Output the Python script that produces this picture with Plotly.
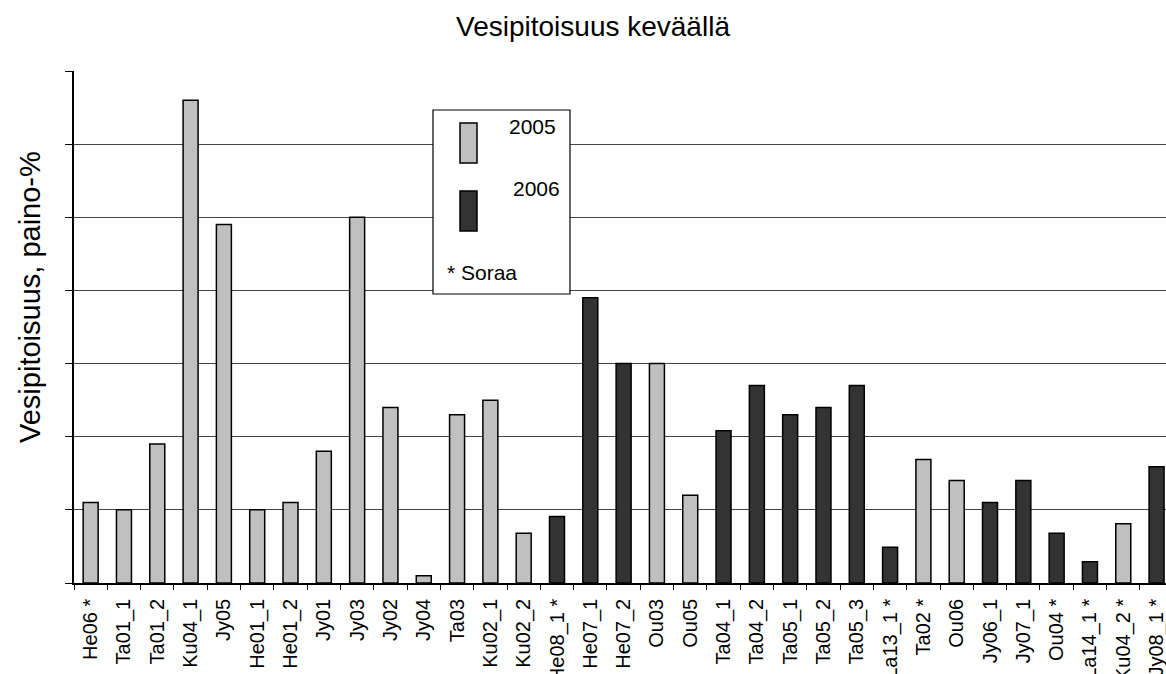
import plotly.graph_objects as go

categories = ["He06 *", "Ta01_1", "Ta01_2", "Ku04_1", "Jy05", "He01_1", "He01_2", "Jy01",
              "Jy03", "Jy02", "Jy04", "Ta03", "Ku02_1", "Ku02_2", "He08_1 *", "He07_1",
              "He07_2", "Ou03", "Ou05", "Ta04_1", "Ta04_2", "Ta05_1", "Ta05_2", "Ta05_3",
              "La13_1 *", "Ta02 *", "Ou06", "Jy06_1", "Jy07_1", "Ou04 *", "La14_1 *",
              "Ku04_2 *", "Jy08_1 *"]
years = [2005, 2005, 2005, 2005, 2005, 2005, 2005, 2005,
         2005, 2005, 2005, 2005, 2005, 2005, 2006, 2006,
         2006, 2005, 2005, 2006, 2006, 2006, 2006, 2006,
         2006, 2005, 2005, 2006, 2006, 2006, 2006,
         2005, 2006]
values = [1.1, 1.0, 1.9, 6.6, 4.9, 1.0, 1.1, 1.8,
          5.0, 2.4, 0.1, 2.3, 2.5, 0.68, 0.91, 3.9,
          3.0, 3.0, 1.2, 2.08, 2.7, 2.3, 2.4, 2.7,
          0.49, 1.69, 1.4, 1.1, 1.4, 0.68, 0.29,
          0.81, 1.59]

colors = {2005: "#c0c0c0", 2006: "#333333"}
FONT = "Liberation Sans, Arial, sans-serif"

W, H = 1166, 674
L, R, T, B = 74, 0, 71, 91
pw, ph = W - L - R, H - T - B

def px(x):
    return (x - L) / pw

def py(y):
    return (H - B - y) / ph

fig = go.Figure()
for yr in (2005, 2006):
    xs = [c for c, y in zip(categories, years) if y == yr]
    vs = [v for v, y in zip(values, years) if y == yr]
    fig.add_trace(go.Bar(x=xs, y=vs, name=str(yr), width=0.45,
                         marker=dict(color=colors[yr], line=dict(color="black", width=1.5))))

# legend box
shapes = [
    dict(type="rect", xref="paper", yref="paper", x0=px(433), x1=px(570), y0=py(110), y1=py(294),
         line=dict(color="black", width=1.2), fillcolor="white", layer="above"),
    dict(type="rect", xref="paper", yref="paper", x0=px(460), x1=px(477), y0=py(123), y1=py(163),
         line=dict(color="black", width=1.5), fillcolor=colors[2005], layer="above"),
    dict(type="rect", xref="paper", yref="paper", x0=px(460), x1=px(477), y0=py(191), y1=py(231),
         line=dict(color="black", width=1.5), fillcolor=colors[2006], layer="above"),
]
annotations = [
    dict(text="2005", xref="paper", yref="paper", x=px(558), y=py(126), xanchor="right", yanchor="middle",
         showarrow=False, font=dict(size=21, color="black", family=FONT)),
    dict(text="2006", xref="paper", yref="paper", x=px(562), y=py(188), xanchor="right", yanchor="middle",
         showarrow=False, font=dict(size=21, color="black", family=FONT)),
    dict(text="* Soraa", xref="paper", yref="paper", x=px(445), y=py(272), xanchor="left", yanchor="middle",
         showarrow=False, font=dict(size=21, color="black", family=FONT)),
    dict(text="Vesipitoisuus, paino-%", xref="paper", yref="paper", x=px(30), y=py(297),
         xanchor="center", yanchor="middle", textangle=-90,
         showarrow=False, font=dict(size=29, color="black", family=FONT)),
]

fig.update_layout(
    width=W, height=H,
    margin=dict(l=L, r=R, t=T, b=B, autoexpand=False),
    paper_bgcolor="white", plot_bgcolor="white",
    barmode="overlay", showlegend=False,
    title=dict(text="Vesipitoisuus keväällä", x=593 / W, xref="container", xanchor="center",
               y=1 - 26 / H, yref="container", yanchor="middle",
               font=dict(size=28, color="black", family=FONT)),
    font=dict(family=FONT, color="black"),
    shapes=shapes, annotations=annotations,
    xaxis=dict(type="category", categoryorder="array", categoryarray=categories,
               range=[-0.5, -0.5 + pw / 33.31], tickangle=-90, automargin=False,
               tickfont=dict(size=20, color="black", family=FONT),
               ticks="outside", ticklen=5, tickcolor="black", tickson="boundaries",
               ticklabelstandoff=6,
               showline=True, linecolor="black", linewidth=1.5, showgrid=False, zeroline=False),
    yaxis=dict(range=[0, 7], dtick=1, showticklabels=False, ticks="outside", ticklen=7,
               automargin=False,
               tickcolor="black", showline=True, linecolor="black", linewidth=1.5,
               showgrid=True, gridcolor="#444444", gridwidth=1.2, zeroline=False),
)

fig.write_html("out.html", config={"displayModeBar": False},
               post_script="document.body.style.margin='0';document.body.style.overflow='hidden';")
